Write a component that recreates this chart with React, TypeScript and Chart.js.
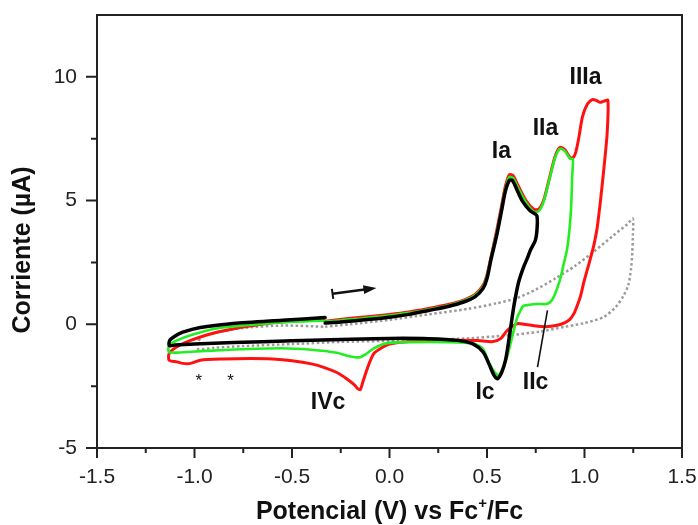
import React, { useEffect, useRef } from 'react';
import { Chart, registerables } from 'chart.js';

Chart.register(...registerables);

// ---- axis ticks ----
const xTicks = [-1.5, -1.0, -0.5, 0.0, 0.5, 1.0, 1.5];
const xMinor = [-1.25, -0.75, -0.25, 0.25, 0.75, 1.25];
const yTicks = [-5, 0, 5, 10];
const yMinor = [-2.5, 2.5, 7.5];

// ---- black curve (switch at 0.755 V) ----
const blackV = [
  -0.33, -0.25, -0.1, 0.0, 0.1, 0.2, 0.3, 0.38, 0.44, 0.48, 0.5, 0.52, 0.55, 0.575, 0.595, 0.615, 0.63, 0.65, 0.68, 0.72, 0.755,
  0.757, 0.748, 0.723, 0.706, 0.687, 0.662, 0.646, 0.635, 0.622, 0.61, 0.595, 0.575, 0.553, 0.535, 0.51, 0.48, 0.43, 0.35, 0.2, 0.0, -0.2, -0.5, -0.8, -1.0, -1.1, -1.13,
  -1.127, -1.105, -1.06, -0.97, -0.8, -0.55, -0.33,
];
const blackI = [
  0.05, 0.09, 0.2, 0.28, 0.4, 0.56, 0.72, 0.9, 1.12, 1.45, 1.85, 2.6, 3.6, 4.6, 5.4, 5.82, 5.82, 5.5, 5.0, 4.6, 4.4,
  3.9, 3.4, 3.0, 2.65, 2.3, 1.7, 1.1, 0.6, -0.1, -0.75, -1.45, -1.95, -2.2, -2.05, -1.6, -1.12, -0.8, -0.65, -0.58, -0.57, -0.6, -0.67, -0.74, -0.8, -0.84, -0.86,
  -0.65, -0.5, -0.32, -0.13, 0.03, 0.16, 0.27,
];

// ---- green curve (switch at 0.94 V) ----
const greenV = [
  -0.33, -0.2, 0.0, 0.1, 0.2, 0.3, 0.38, 0.44, 0.48, 0.5, 0.52, 0.55, 0.575, 0.595, 0.615, 0.635, 0.66, 0.7, 0.74, 0.765, 0.79, 0.82, 0.85, 0.875, 0.9, 0.925, 0.94,
  0.937, 0.933, 0.928, 0.92, 0.91, 0.895, 0.878, 0.862, 0.845, 0.825, 0.805, 0.76, 0.71, 0.685, 0.672, 0.656, 0.642, 0.629, 0.615, 0.603, 0.58, 0.56, 0.54, 0.51, 0.48, 0.43, 0.3, 0.1, 0.0, -0.03, -0.08, -0.12, -0.15, -0.2, -0.27, -0.4, -0.55, -0.8, -1.0, -1.13,
  -1.13, -1.09, -1.02, -0.88, -0.54, -0.33,
];
const greenI = [
  0.1, 0.2, 0.35, 0.46, 0.6, 0.76, 0.95, 1.18, 1.52, 1.95, 2.65, 3.7, 4.7, 5.5, 5.95, 5.9, 5.5, 4.92, 4.55, 4.57, 4.95, 5.85, 6.75, 7.1, 7.0, 6.7, 6.68,
  6.0, 5.0, 4.3, 3.6, 3.0, 2.5, 1.9, 1.5, 1.15, 0.9, 0.82, 0.82, 0.78, 0.74, 0.56, 0.3, -0.1, -0.51, -0.95, -1.32, -1.8, -2.06, -1.95, -1.55, -1.0, -0.78, -0.72, -0.72, -0.75, -0.8, -0.97, -1.2, -1.33, -1.3, -1.15, -1.03, -0.97, -1.02, -1.1, -1.13,
  -0.85, -0.65, -0.44, -0.16, 0.08, 0.15,
];

// ---- red curve (switch at 1.12 V) ----
const redV = [
  -0.33, -0.2, 0.0, 0.1, 0.2, 0.3, 0.38, 0.44, 0.48, 0.5, 0.52, 0.55, 0.575, 0.595, 0.615, 0.635, 0.66, 0.7, 0.74, 0.765, 0.79, 0.82, 0.85, 0.875, 0.9, 0.925, 0.94, 0.955, 0.97, 0.99, 1.015, 1.04, 1.06, 1.08, 1.1, 1.12,
  1.116, 1.1, 1.082, 1.065, 1.048, 1.03, 1.014, 0.995, 0.98, 0.96, 0.945, 0.925, 0.9, 0.86, 0.8, 0.74, 0.69, 0.66, 0.63, 0.6, 0.57, 0.53, 0.45, 0.3, 0.1, 0.0, -0.04, -0.08, -0.1, -0.123, -0.14, -0.15, -0.163, -0.18, -0.22, -0.27, -0.33, -0.4, -0.5, -0.6, -0.713, -0.85, -0.97, -1.02, -1.06, -1.09, -1.13,
  -1.13, -1.09, -1.02, -0.88, -0.63, -0.37, -0.33,
];
const redI = [
  0.12, 0.24, 0.4, 0.5, 0.64, 0.8, 0.98, 1.22, 1.58, 2.0, 2.7, 3.8, 4.8, 5.6, 6.05, 6.0, 5.6, 5.0, 4.65, 4.65, 5.0, 5.9, 6.8, 7.15, 7.05, 6.75, 6.72, 6.95, 7.5, 8.4, 8.9, 9.08, 9.05, 8.97, 9.02, 9.05,
  7.7, 6.34, 5.0, 3.9, 3.2, 2.65, 2.2, 1.65, 1.15, 0.7, 0.42, 0.2, 0.07, -0.04, -0.1, -0.06, 0.0, 0.03, -0.08, -0.28, -0.58, -0.7, -0.66, -0.65, -0.7, -0.8, -0.95, -1.18, -1.5, -2.0, -2.42, -2.64, -2.6, -2.45, -2.2, -1.95, -1.76, -1.6, -1.47, -1.4, -1.38, -1.4, -1.45, -1.58, -1.58, -1.52, -1.45,
  -1.18, -0.91, -0.65, -0.31, 0.03, 0.2, 0.22,
];

// ---- blank (dotted grey) ----
const blankV = [
  -0.33, -0.2, 0.0, 0.2, 0.4, 0.55, 0.65, 0.75, 0.85, 0.95, 1.05, 1.15, 1.22, 1.248,
  1.248, 1.245, 1.238, 1.225, 1.2, 1.16, 1.1, 1.0, 0.9, 0.77, 0.6, 0.4, 0.2, 0.0, -0.25, -0.5, -0.75, -0.9, -0.98,
  -0.985, -0.96, -0.9, -0.75, -0.55, -0.33,
];
const blankI = [
  -0.1, 0.0, 0.18, 0.4, 0.62, 0.85, 1.05, 1.4, 1.85, 2.35, 2.95, 3.6, 4.05, 4.27,
  3.6, 2.9, 2.2, 1.6, 1.15, 0.7, 0.3, 0.05, -0.1, -0.3, -0.45, -0.57, -0.63, -0.67, -0.71, -0.8, -0.88, -0.95, -1.0,
  -0.75, -0.5, -0.35, -0.15, -0.05, -0.1,
];

// ---- annotations (data coordinates) ----
const peakLabels = ['Ia', 'IIa', 'IIIa', 'IVc', 'Ic', 'IIc'];
const peakLabelV = [0.574, 0.8, 1.005, -0.315, 0.49, 0.749];
const peakLabelI = [6.96, 7.9, 9.98, -3.17, -2.76, -2.36];
const starV = [-0.978, -0.815];
const starI = [-2.12, -2.12];
const arrowFrom = [-0.292, 1.23];
const arrowTo = [-0.067, 1.47];
const iicLineFrom = [0.81, 0.56];
const iicLineTo = [0.759, -1.73];

const xTitle = ['Potencial (V) vs Fc', '+', '/Fc'];
const yTitle = 'Corriente (\u00B5A)';

const zip = (V: number[], I: number[]) => V.map((v, k) => ({ x: v, y: I[k] }));

const FONT = '"Liberation Sans", Arial, sans-serif';

const decor = {
  id: 'decor',
  afterDraw(chart: any) {
    const { ctx, chartArea: a, scales } = chart;
    const xs = scales.x;
    const ys = scales.y;
    const px = (v: number) => xs.getPixelForValue(v);
    const py = (v: number) => ys.getPixelForValue(v);
    ctx.save();
    // frame
    ctx.strokeStyle = '#222';
    ctx.lineWidth = 2;
    ctx.strokeRect(a.left, a.top, a.right - a.left, a.bottom - a.top);
    // tick marks
    ctx.beginPath();
    xTicks.forEach((v) => { const x = px(v); ctx.moveTo(x, a.bottom); ctx.lineTo(x, a.bottom + 10); });
    xMinor.forEach((v) => { const x = px(v); ctx.moveTo(x, a.bottom); ctx.lineTo(x, a.bottom + 5); });
    yTicks.forEach((v) => { const y = py(v); ctx.moveTo(a.left, y); ctx.lineTo(a.left - 11, y); });
    yMinor.forEach((v) => { const y = py(v); ctx.moveTo(a.left, y); ctx.lineTo(a.left - 6, y); });
    ctx.stroke();

    // scan direction arrow
    const x0 = px(arrowFrom[0]), y0 = py(arrowFrom[1]);
    const x1 = px(arrowTo[0]), y1 = py(arrowTo[1]);
    const ang = Math.atan2(y1 - y0, x1 - x0);
    ctx.strokeStyle = '#111';
    ctx.fillStyle = '#111';
    ctx.lineWidth = 2.5;
    ctx.beginPath();
    ctx.moveTo(x0, y0);
    ctx.lineTo(x1 - 8 * Math.cos(ang), y1 - 8 * Math.sin(ang));
    ctx.stroke();
    ctx.lineWidth = 2;
    ctx.beginPath();
    ctx.moveTo(x0 + 5 * Math.sin(ang), y0 - 5 * Math.cos(ang));
    ctx.lineTo(x0 - 5 * Math.sin(ang), y0 + 5 * Math.cos(ang));
    ctx.stroke();
    ctx.beginPath();
    ctx.moveTo(x1, y1);
    ctx.lineTo(x1 - 13 * Math.cos(ang) + 4.5 * Math.sin(ang), y1 - 13 * Math.sin(ang) - 4.5 * Math.cos(ang));
    ctx.lineTo(x1 - 13 * Math.cos(ang) - 4.5 * Math.sin(ang), y1 - 13 * Math.sin(ang) + 4.5 * Math.cos(ang));
    ctx.closePath();
    ctx.fill();

    // IIc pointer
    ctx.lineWidth = 1.6;
    ctx.beginPath();
    ctx.moveTo(px(iicLineFrom[0]), py(iicLineFrom[1]));
    ctx.lineTo(px(iicLineTo[0]), py(iicLineTo[1]));
    ctx.stroke();

    // peak labels
    ctx.font = `bold 23px ${FONT}`;
    ctx.textAlign = 'center';
    ctx.textBaseline = 'middle';
    peakLabels.forEach((t, k) => ctx.fillText(t, px(peakLabelV[k]), py(peakLabelI[k])));

    // asterisks
    ctx.font = `17px ${FONT}`;
    ctx.textBaseline = 'alphabetic';
    starV.forEach((v, k) => ctx.fillText('*', px(v), py(starI[k]) + 9.5));

    // x title with superscript
    const big = `bold 25px ${FONT}`;
    const small = `bold 15px ${FONT}`;
    ctx.font = big;
    const w0 = ctx.measureText(xTitle[0]).width;
    const w2 = ctx.measureText(xTitle[2]).width;
    ctx.font = small;
    const w1 = ctx.measureText(xTitle[1]).width;
    const total = w0 + w1 + w2;
    const cx = (a.left + a.right) / 2;
    let sx = cx - total / 2;
    const base = 519;
    ctx.textAlign = 'left';
    ctx.font = big;
    ctx.fillText(xTitle[0], sx, base);
    sx += w0;
    ctx.font = small;
    ctx.fillText(xTitle[1], sx, base - 11);
    sx += w1;
    ctx.font = big;
    ctx.fillText(xTitle[2], sx, base);

    // y title
    ctx.save();
    ctx.translate(23, 250);
    ctx.rotate(-Math.PI / 2);
    ctx.textAlign = 'center';
    ctx.textBaseline = 'middle';
    ctx.font = big;
    ctx.fillText(yTitle, 0, 0);
    ctx.restore();

    ctx.restore();
  },
};

export default function App() {
  const ref = useRef<HTMLCanvasElement | null>(null);
  useEffect(() => {
    if (!ref.current) return;
    const tickFont = { family: FONT, size: 21 };
    const chart = new Chart(ref.current, {
      type: 'line',
      data: {
        datasets: [
          { label: 'black', data: zip(blackV, blackI), borderColor: '#000000', borderWidth: 3.5, pointRadius: 0, tension: 0.25, fill: false, borderJoinStyle: 'round', borderCapStyle: 'round' },
          { label: 'green', data: zip(greenV, greenI), borderColor: '#22ee22', borderWidth: 2.6, pointRadius: 0, tension: 0.25, fill: false, borderJoinStyle: 'round' },
          { label: 'red', data: zip(redV, redI), borderColor: '#ff1111', borderWidth: 3, pointRadius: 0, tension: 0.25, fill: false, borderJoinStyle: 'round' },
          { label: 'blank', data: zip(blankV, blankI), borderColor: '#9a9a9a', borderWidth: 2.5, borderDash: [2.5, 2.5], pointRadius: 0, tension: 0.25, fill: false },
        ],
      },
      options: {
        animation: false,
        responsive: false,
        maintainAspectRatio: false,
        devicePixelRatio: 1,
        layout: { padding: { top: 15, right: 16, left: 0, bottom: 0 } },
        plugins: { legend: { display: false }, tooltip: { enabled: false } },
        scales: {
          x: {
            type: 'linear',
            min: -1.5,
            max: 1.5,
            grid: { display: false, drawTicks: false },
            border: { display: false },
            ticks: { font: tickFont, color: '#222', padding: 17, maxRotation: 0, callback: (v: any) => Number(v).toFixed(1) },
            afterBuildTicks: (s: any) => { s.ticks = xTicks.map((v) => ({ value: v })); },
            afterFit: (s: any) => { s.height = 77; s.paddingLeft = 0; s.paddingRight = 0; s.paddingTop = 0; s.paddingBottom = 0; },
          },
          y: {
            type: 'linear',
            min: -5,
            max: 12.5,
            grid: { display: false, drawTicks: false },
            border: { display: false },
            ticks: { font: tickFont, color: '#222', padding: 20, callback: (v: any) => String(v) },
            afterBuildTicks: (s: any) => { s.ticks = yTicks.map((v) => ({ value: v })); },
            afterFit: (s: any) => { s.width = 97; s.paddingLeft = 0; s.paddingRight = 0; s.paddingTop = 0; s.paddingBottom = 0; },
          },
        },
      },
      plugins: [decor],
    });
    return () => chart.destroy();
  }, []);
  return (
    <div style={{ position: 'absolute', left: 0, top: 0, width: 698, height: 525, background: '#fff' }}>
      <canvas ref={ref} width={698} height={525} style={{ display: 'block' }} />
    </div>
  );
}
